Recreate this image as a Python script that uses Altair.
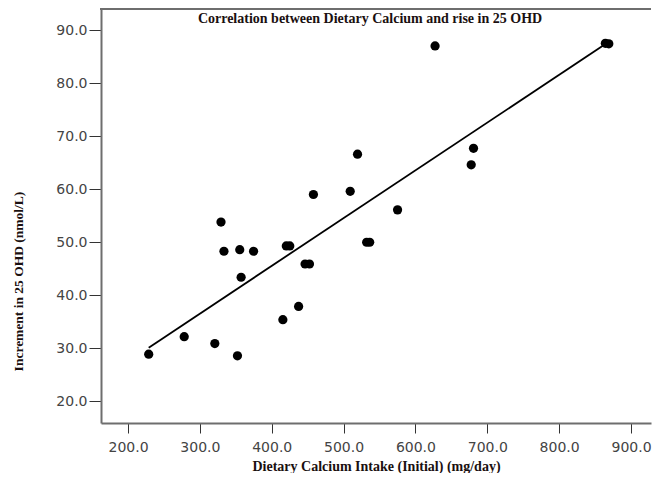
import altair as alt
import pandas as pd

# Dietary calcium intake (mg/day) and increment in 25 OHD (nmol/L)
calcium_intake = [228.8, 278.2, 320.8, 329.4, 333.5, 355.5, 374.7, 357.4, 352.3,
                  420.3, 425.1, 415.5, 437.4, 446.4, 452.5, 458.0, 509.2, 519.4,
                  532.1, 536.3, 575.1, 627.3, 677.6, 680.8, 864.3, 869.1]
ohd_increment = [28.9, 32.2, 30.9, 53.8, 48.3, 48.6, 48.3, 43.4, 28.6,
                 49.3, 49.3, 35.4, 37.9, 45.9, 45.9, 59.0, 59.6, 66.6,
                 50.0, 50.0, 56.1, 87.0, 64.6, 67.7, 87.5, 87.4]

x_ticks = [200, 300, 400, 500, 600, 700, 800, 900]
y_ticks = [20, 30, 40, 50, 60, 70, 80, 90]
x_domain = [162.4, 927.8]
y_domain = [15.93, 93.96]
chart_title = ["Correlation between Dietary Calcium and rise in 25 OHD"]

df = pd.DataFrame({"intake": calcium_intake, "incr": ohd_increment})

W, H = 550, 414
TITLE_FONT = "Liberation Serif"
LABEL_FONT = "DejaVu Sans"
AXIS_GRAY = "#6e6e6e"

x_enc = alt.X(
    "intake:Q",
    scale=alt.Scale(domain=x_domain, nice=False, zero=False),
    axis=alt.Axis(
        title="Dietary Calcium Intake (Initial) (mg/day)",
        values=x_ticks, format=".1f", grid=False,
        tickSize=10, tickColor="#333333", tickWidth=1,
        domainColor=AXIS_GRAY, domainWidth=2,
        labelFont=LABEL_FONT, labelFontSize=14, labelColor="#444444",
        labelPadding=7,
        titleFont=TITLE_FONT, titleFontSize=14, titleFontWeight="bold",
        titleColor="#1a1010", titleY=43, titleBaseline="middle",
    ),
)
y_enc = alt.Y(
    "incr:Q",
    scale=alt.Scale(domain=y_domain, nice=False, zero=False),
    axis=alt.Axis(
        title="Increment in 25 OHD (nmol/L)",
        values=y_ticks, format=".1f", grid=False,
        tickSize=12, tickColor="#333333", tickWidth=1,
        domainColor=AXIS_GRAY, domainWidth=2,
        labelFont=LABEL_FONT, labelFontSize=14, labelColor="#444444",
        labelPadding=2,
        titleFont=TITLE_FONT, titleFontSize=13.5, titleFontWeight="bold",
        titleColor="#1a1010", titleX=-83, titleY=272, titleBaseline="middle",
        titleAngle=270,
    ),
)

base = alt.Chart(df)

points = base.mark_circle(size=85, color="black", opacity=1).encode(x=x_enc, y=y_enc)

fit = base.transform_regression("intake", "incr").mark_line(
    color="black", strokeWidth=1.8
).encode(x="intake:Q", y="incr:Q")

top_line = alt.Chart(df).mark_rule(color=AXIS_GRAY, strokeWidth=2).encode(
    x=alt.value(-1), x2=alt.value(W), y=alt.value(0)
)

title_text = alt.Chart(pd.DataFrame({"t": chart_title})).mark_text(
    font=TITLE_FONT, fontSize=14, fontWeight="bold", color="#1a1010",
    align="center", baseline="alphabetic",
).encode(text="t:N", x=alt.value(269), y=alt.value(14))

chart = alt.layer(top_line, fit, points, title_text).properties(
    width=W,
    height=H,
    padding={"left": 3, "top": 0, "right": 0, "bottom": 0},
).configure_view(strokeWidth=0)

chart.save("out.html", embed_options={"renderer": "svg", "actions": False})
